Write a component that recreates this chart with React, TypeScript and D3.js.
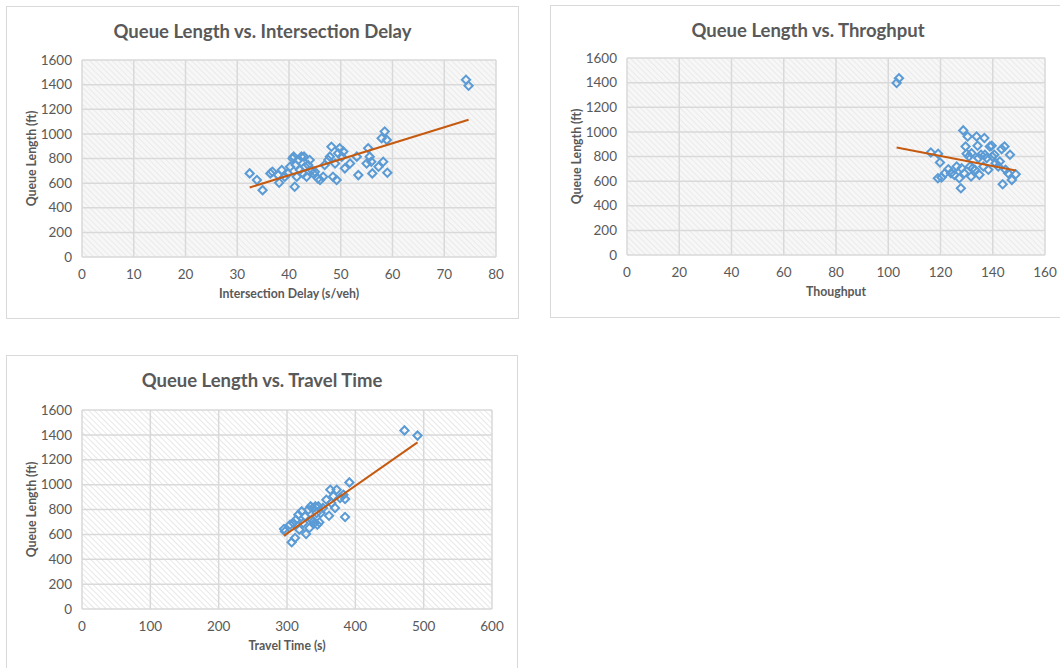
import React from "react";
import * as d3 from "d3";

// Queue length observations against three corridor measures
const delayX = [32.4, 33.8, 34.9, 36.4, 36.8, 37.9, 38.1, 38.6, 39.2, 39.8, 40.2, 40.7, 40.9, 41.1, 41.3, 41.5, 41.8, 42.1, 42.4, 42.7, 42.9, 43.1, 43.4, 43.7, 44.0, 44.4, 44.7, 45.0, 45.6, 46.0, 46.6, 46.9, 47.6, 47.9, 48.2, 48.5, 48.9, 49.2, 49.5, 49.8, 50.2, 50.5, 50.8, 51.8, 53.1, 53.4, 55.0, 55.3, 55.6, 55.9, 56.1, 57.3, 57.9, 58.2, 58.5, 58.9, 59.0, 74.2, 74.7];
const delayY = [679, 625, 543, 679, 693, 665, 603, 706, 652, 679, 733, 801, 815, 570, 747, 652, 788, 706, 815, 679, 815, 733, 652, 747, 788, 706, 679, 693, 638, 625, 652, 747, 788, 815, 896, 652, 760, 625, 842, 883, 815, 856, 720, 760, 815, 665, 760, 883, 815, 774, 679, 733, 964, 774, 1019, 951, 684, 1440, 1391];

const throughputX = [103.2, 104.1, 116.3, 119.1, 119.8, 119.0, 120.4, 121.7, 123.0, 124.0, 125.3, 126.2, 127.2, 127.8, 128.1, 128.7, 129.1, 129.6, 130.0, 130.4, 130.9, 131.3, 131.7, 131.9, 132.3, 133.2, 133.8, 134.2, 134.5, 134.9, 135.5, 136.4, 136.8, 137.0, 137.7, 138.3, 138.9, 139.6, 139.8, 140.6, 141.1, 142.1, 142.7, 143.4, 143.8, 144.5, 144.9, 145.9, 146.6, 147.3, 148.8];
const throughputY = [1397, 1435, 833, 822, 751, 624, 629, 664, 697, 664, 651, 719, 624, 542, 705, 1012, 664, 881, 822, 963, 800, 719, 637, 827, 705, 692, 963, 887, 787, 651, 814, 719, 950, 814, 787, 692, 881, 887, 800, 814, 746, 719, 760, 860, 575, 881, 692, 664, 814, 610, 656];

const travelX = [295.6, 297.1, 304.5, 306.8, 311.7, 309.3, 313.2, 316.6, 318.1, 321.5, 323.9, 326.4, 327.9, 331.2, 332.7, 334.6, 336.1, 337.6, 338.5, 340.0, 341.5, 343.4, 344.4, 345.9, 347.3, 349.3, 352.5, 357.6, 361.5, 363.4, 364.9, 367.9, 370.3, 372.7, 377.6, 382.5, 385.0, 385.0, 391.3, 471.9, 491.0];
const travelY = [643, 624, 678, 536, 571, 692, 718, 758, 638, 785, 692, 745, 603, 798, 651, 825, 718, 812, 705, 692, 825, 772, 678, 825, 697, 772, 812, 879, 750, 959, 852, 906, 812, 959, 892, 919, 740, 884, 1018, 1436, 1394];

// Linear trendline coefficients [slope, intercept] for each panel
const delayTrend = [12.98, 144.5];
const throughputTrend = [-4.077, 1293.8];
const travelTrend = [3.838, -544.6];

const queueTicks = [0, 200, 400, 600, 800, 1000, 1200, 1400, 1600];
const delayTicks = [0, 10, 20, 30, 40, 50, 60, 70, 80];
const throughputTicks = [0, 20, 40, 60, 80, 100, 120, 140, 160];
const travelTicks = [0, 100, 200, 300, 400, 500, 600];

const FONT = "Lato, 'Open Sans', sans-serif";
const TEXT = "#595959";
const GRID = "#d9d9d9";
const MARKER = "#5b9bd5";
const TREND = "#c55a11";

type Box = { x: number; y: number; w: number; h: number };
type Plot = { left: number; top: number; right: number; bottom: number };

const diamond = d3.symbol().type(d3.symbolSquare).size(34)();

function ScatterPanel(props: {
  box: Box;
  plot: Plot;
  title: string;
  xLabel: string;
  xs: number[];
  ys: number[];
  trendCoef: number[];
  xTicks: number[];
  hatch: string;
}) {
  const { box, plot, title, xLabel, xs, ys, trendCoef, xTicks, hatch } = props;
  const x = d3
    .scaleLinear()
    .domain([xTicks[0], xTicks[xTicks.length - 1]])
    .range([plot.left, plot.right]);
  const y = d3
    .scaleLinear()
    .domain([queueTicks[0], queueTicks[queueTicks.length - 1]])
    .range([plot.bottom, plot.top]);
  const [slope, intercept] = trendCoef;
  const [x0, x1] = d3.extent(xs) as [number, number];
  const trend = d3.line<number>()
    .x((d) => x(d))
    .y((d) => y(intercept + slope * d))([x0, x1]);
  const midX = (plot.left + plot.right) / 2;
  const midY = (plot.top + plot.bottom) / 2;

  return (
    <g>
      <rect x={box.x} y={box.y} width={box.w} height={box.h} fill="#fff" stroke={GRID} strokeWidth={1} />
      <text
        x={box.x + box.w / 2}
        y={box.y + 31}
        textAnchor="middle"
        fontFamily={FONT}
        fontWeight={700}
        fontSize={18.5}
        fill={TEXT}
      >
        {title}
      </text>
      <rect
        x={plot.left}
        y={plot.top}
        width={plot.right - plot.left}
        height={plot.bottom - plot.top}
        fill={`url(#${hatch})`}
      />
      {xTicks.map((t) => (
        <line key={`vx${t}`} x1={x(t)} x2={x(t)} y1={plot.top} y2={plot.bottom} stroke={GRID} strokeWidth={1.5} />
      ))}
      {queueTicks.map((t) => (
        <line key={`hy${t}`} x1={plot.left} x2={plot.right} y1={y(t)} y2={y(t)} stroke={GRID} strokeWidth={1.5} />
      ))}
      {queueTicks.map((t) => (
        <text
          key={`ly${t}`}
          x={plot.left - 10}
          y={y(t)}
          dy="0.35em"
          textAnchor="end"
          fontFamily={FONT}
          fontSize={13.5}
          fill={TEXT}
        >
          {t}
        </text>
      ))}
      {xTicks.map((t) => (
        <text
          key={`lx${t}`}
          x={x(t)}
          y={plot.bottom + 17}
          dy="0.35em"
          textAnchor="middle"
          fontFamily={FONT}
          fontSize={13.5}
          fill={TEXT}
        >
          {t}
        </text>
      ))}
      <text
        x={midX}
        y={plot.bottom + 37}
        dy="0.35em"
        textAnchor="middle"
        fontFamily={FONT}
        fontWeight={700}
        fontSize={12.3}
        fill={TEXT}
      >
        {xLabel}
      </text>
      <text
        transform={`translate(${plot.left - 50},${midY}) rotate(-90)`}
        dy="0.35em"
        textAnchor="middle"
        fontFamily={FONT}
        fontWeight={700}
        fontSize={12.3}
        fill={TEXT}
      >
        Queue Length (ft)
      </text>
      {xs.map((v, i) => (
        <path
          key={`p${i}`}
          d={diamond!}
          transform={`translate(${x(v)},${y(ys[i])}) rotate(45)`}
          fill="none"
          stroke={MARKER}
          strokeWidth={2}
        />
      ))}
      <path d={trend!} fill="none" stroke={TREND} strokeWidth={2} />
    </g>
  );
}

export default function App() {
  return (
    <svg
      width={1060}
      height={668}
      style={{ position: "absolute", left: 0, top: 0, background: "#fff" }}
    >
      <defs>
        <pattern id="hatchSoft" width={4} height={4} patternUnits="userSpaceOnUse" patternTransform="rotate(-45)">
          <rect width={4} height={4} fill="#f7f7f7" />
          <line x1={0} y1={0} x2={0} y2={4} stroke="#e2e2e2" strokeWidth={1.2} />
        </pattern>
        <pattern id="hatchSharp" width={4} height={4} patternUnits="userSpaceOnUse" patternTransform="rotate(-45)">
          <rect width={4} height={4} fill="#fff" />
          <line x1={0} y1={0} x2={0} y2={4} stroke="#d2d2d2" strokeWidth={1} />
        </pattern>
      </defs>
      <rect width={1060} height={668} fill="#fff" />
      <ScatterPanel
        box={{ x: 6.5, y: 6.5, w: 512, h: 312 }}
        plot={{ left: 82, top: 60, right: 496, bottom: 257 }}
        title="Queue Length vs. Intersection Delay"
        xLabel="Intersection Delay (s/veh)"
        xs={delayX}
        ys={delayY}
        trendCoef={delayTrend}
        xTicks={delayTicks}
        hatch="hatchSoft"
      />
      <ScatterPanel
        box={{ x: 550.5, y: 5.5, w: 515, h: 312 }}
        plot={{ left: 627, top: 58, right: 1045, bottom: 255 }}
        title="Queue Length vs. Throghput"
        xLabel="Thoughput"
        xs={throughputX}
        ys={throughputY}
        trendCoef={throughputTrend}
        xTicks={throughputTicks}
        hatch="hatchSoft"
      />
      <ScatterPanel
        box={{ x: 6.5, y: 355.5, w: 511, h: 320 }}
        plot={{ left: 82, top: 410, right: 492, bottom: 609 }}
        title="Queue Length vs. Travel Time"
        xLabel="Travel Time (s)"
        xs={travelX}
        ys={travelY}
        trendCoef={travelTrend}
        xTicks={travelTicks}
        hatch="hatchSharp"
      />
    </svg>
  );
}
